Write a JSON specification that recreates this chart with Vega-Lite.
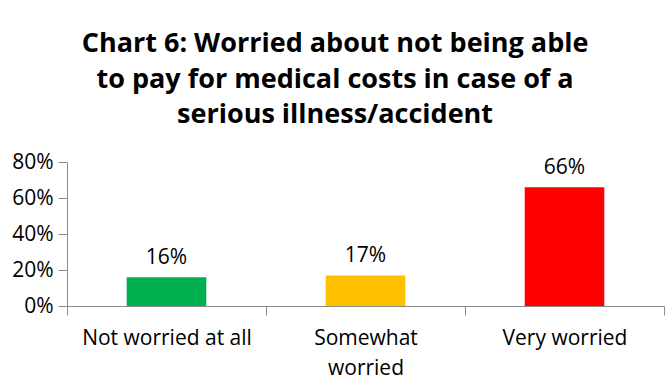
{
  "$schema": "https://vega.github.io/schema/vega-lite/v6.json",
  "width": 597,
  "height": 144,
  "autosize": {"type": "none"},
  "padding": {"left": 67, "top": 162, "right": 8, "bottom": 79},
  "background": "white",
  "config": {"view": {"stroke": null}, "font": "Open Sans"},
  "title": {
    "text": ["Chart 6: Worried about not being able", "to pay for medical costs in case of a", "serious illness/accident"],
    "font": "Open Sans",
    "fontSize": 27,
    "fontWeight": "bold",
    "color": "#000000",
    "lineHeight": 35.5,
    "anchor": "middle",
    "frame": "bounds",
    "offset": 22,
    "dx": -3
  },
  "data": {
    "values": [
      {"category": "Not worried at all", "value": 0.16, "color": "#00B050"},
      {"category": "Somewhat worried", "value": 0.17, "color": "#FFC000"},
      {"category": "Very worried", "value": 0.66, "color": "#FF0000"}
    ]
  },
  "encoding": {
    "x": {
      "field": "category",
      "type": "nominal",
      "sort": null,
      "scale": {"paddingInner": 0, "paddingOuter": 0},
      "axis": {
        "title": null,
        "labelAngle": 0,
        "tickBand": "extent",
        "labelFont": "Open Sans",
        "labelFontSize": 21,
        "labelColor": "#000000",
        "labelPadding": 12,
        "labelLineHeight": 30,
        "labelLimit": 300,
        "domainColor": "#8c8c8c",
        "tickColor": "#8c8c8c",
        "tickSize": 9,
        "labelExpr": "datum.label == 'Somewhat worried' ? ['Somewhat', 'worried'] : datum.label"
      }
    },
    "y": {
      "field": "value",
      "type": "quantitative",
      "scale": {"domain": [0, 0.8]},
      "axis": {
        "title": null,
        "format": ".0%",
        "values": [0, 0.2, 0.4, 0.6, 0.8],
        "grid": false,
        "labelFont": "Open Sans",
        "labelFontSize": 21,
        "labelColor": "#000000",
        "labelPadding": 5,
        "domainColor": "#8c8c8c",
        "tickColor": "#8c8c8c",
        "tickSize": 9
      }
    }
  },
  "layer": [
    {
      "mark": {"type": "bar", "width": {"band": 0.4}},
      "encoding": {
        "color": {"field": "color", "type": "nominal", "scale": null}
      }
    },
    {
      "mark": {"type": "text", "baseline": "bottom", "dy": -9, "fontSize": 21, "font": "Open Sans", "color": "#000000"},
      "encoding": {
        "text": {"field": "value", "type": "quantitative", "format": ".0%"}
      }
    }
  ]
}
